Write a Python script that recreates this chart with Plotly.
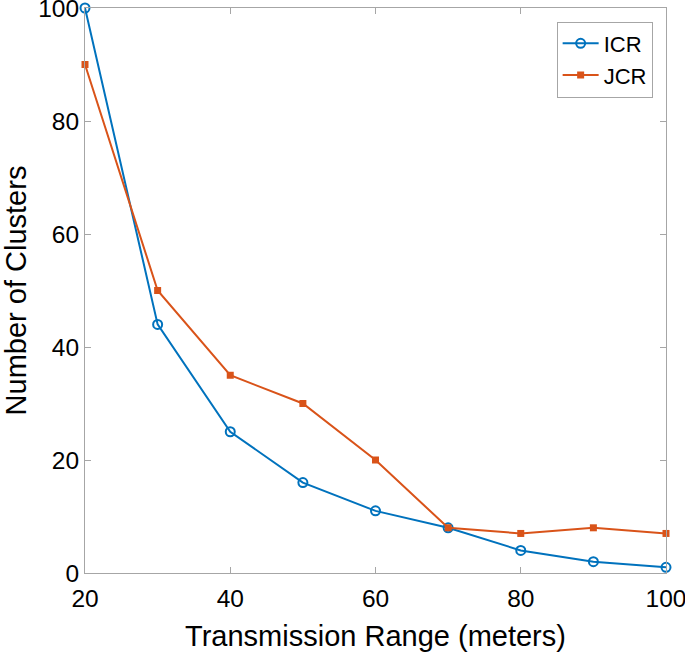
import plotly.graph_objects as go

x_range = [20, 30, 40, 50, 60, 70, 80, 90, 100]
icr = [100, 44, 25, 16, 11, 8, 4, 2, 1]
jcr = [90, 50, 35, 30, 20, 8, 7, 8, 7]

font_family = "Liberation Sans, Arial, sans-serif"
axis_color = "#a6a6a6"

fig = go.Figure()
fig.add_trace(go.Scatter(
    x=x_range, y=icr, name="ICR", mode="lines+markers",
    line=dict(color="#0072BD", width=2),
    marker=dict(symbol="circle-open", size=9, color="#0072BD", line=dict(width=2)),
    cliponaxis=False,
))
fig.add_trace(go.Scatter(
    x=x_range, y=jcr, name="JCR", mode="lines+markers",
    line=dict(color="#D95319", width=2),
    marker=dict(symbol="square", size=7, color="#D95319"),
    cliponaxis=False,
))

fig.update_layout(
    width=685, height=661,
    margin=dict(l=85, r=19, t=8, b=88),
    paper_bgcolor="white", plot_bgcolor="white",
    font=dict(family=font_family, size=24, color="#000000"),
    showlegend=True,
    legend=dict(
        x=0.977, y=0.976, xanchor="right", yanchor="top",
        bgcolor="white", bordercolor="#a6a6a6", borderwidth=1,
        font=dict(size=22, color="#000000"),
        itemwidth=36, tracegroupgap=0,
    ),
    xaxis=dict(
        range=[20, 100], tickvals=[20, 40, 60, 80, 100],
        showgrid=False, zeroline=False, automargin=False,
        showline=True, linecolor=axis_color, linewidth=1, mirror="ticks",
        ticks="inside", ticklen=6, tickcolor=axis_color,
        ticklabeloverflow="allow", ticklabelstandoff=4,
        tickfont=dict(size=24.5, color="#000000"),
        title=dict(text="Transmission Range (meters)", font=dict(size=29, color="#000000"), standoff=14),
    ),
    yaxis=dict(
        range=[0, 100], tickvals=[0, 20, 40, 60, 80, 100],
        showgrid=False, zeroline=False, automargin=False,
        showline=True, linecolor=axis_color, linewidth=1, mirror="ticks",
        ticks="inside", ticklen=6, tickcolor=axis_color,
        ticklabeloverflow="allow",
        tickfont=dict(size=24.5, color="#000000"),
        title=dict(text="Number of Clusters", font=dict(size=29, color="#000000"), standoff=12),
    ),
)

fig.write_html("out.html", config={"displayModeBar": False},
               post_script="document.body.style.margin='0';")
